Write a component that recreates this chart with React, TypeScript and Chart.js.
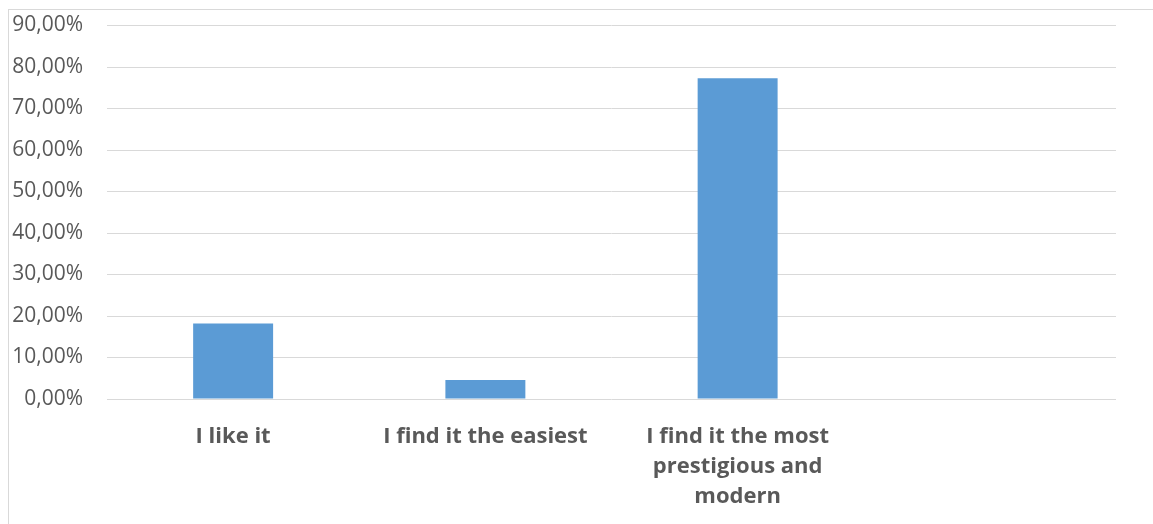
import React, { useEffect, useRef } from "react";
import { Chart, registerables } from "chart.js";

Chart.register(...registerables);

// Survey answers (share of respondents, %)
const categories: (string | string[])[] = [
  "I like it",
  "I find it the easiest",
  ["I find it the most", "prestigious and", "modern"],
  "",
];
const shares: (number | null)[] = [18.18, 4.55, 77.27, null];

const yTicksMax = 90;
const yTicksStep = 10;

const FONT = "'Open Sans', 'Liberation Sans', sans-serif";
const TEXT = "#595959";
const GRID = "#d9d9d9";
const BAR = "#5b9bd5";

export default function App() {
  const canvasRef = useRef<HTMLCanvasElement | null>(null);

  useEffect(() => {
    const canvas = canvasRef.current;
    if (!canvas) return;
    const chart = new Chart(canvas, {
      type: "bar",
      data: {
        labels: categories,
        datasets: [
          {
            data: shares,
            backgroundColor: BAR,
            borderWidth: 0,
            barPercentage: 0.317,
            categoryPercentage: 1,
          },
        ],
      },
      options: {
        responsive: false,
        animation: false,
        layout: { padding: { top: 0, right: 37, left: 0, bottom: 0 } },
        plugins: {
          legend: { display: false },
          tooltip: { enabled: false },
        },
        scales: {
          x: {
            grid: { display: false, drawTicks: false },
            border: { display: false },
            ticks: {
              color: TEXT,
              padding: 23,
              maxRotation: 0,
              autoSkip: false,
              font: { family: FONT, size: 22, weight: "bold", lineHeight: 30 / 22 },
            },
            afterFit: (scale: any) => {
              scale.height = 125;
            },
          },
          y: {
            min: 0,
            max: yTicksMax,
            grid: { color: GRID, lineWidth: 1, drawTicks: false },
            border: { display: false },
            ticks: {
              stepSize: yTicksStep,
              color: TEXT,
              padding: 24,
              font: { family: FONT, size: 21 },
              callback: (v: any) => Number(v).toFixed(2).replace(".", ",") + "%",
            },
            afterFit: (scale: any) => {
              scale.width = 98;
              scale.paddingTop = 15.5;
              scale.paddingBottom = 0;
            },
          },
        },
      },
    });
    return () => chart.destroy();
  }, []);

  return (
    <div
      style={{
        position: "fixed",
        left: 8,
        top: 9,
        width: 1145,
        height: 515,
        borderTop: `1px solid ${GRID}`,
        borderLeft: `1px solid ${GRID}`,
        background: "#fff",
      }}
    >
      <canvas ref={canvasRef} width={1144} height={514} style={{ display: "block" }} />
    </div>
  );
}
